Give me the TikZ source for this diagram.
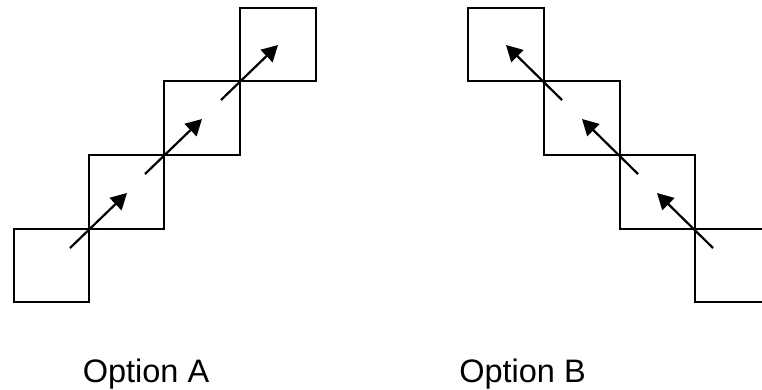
\documentclass[tikz,border=0pt]{standalone}
\usepackage{fontspec}
\setmainfont{Liberation Sans}
\usetikzlibrary{arrows.meta,calc}
\begin{document}
\begin{tikzpicture}[x=1pt,y=-1pt,
  cell/.style={draw=black,line width=2.2pt,line join=miter},
  move/.style={draw=black,line width=2.2pt,-{Triangle[length=16pt,width=17pt]}},
  caption/.style={anchor=base,inner sep=0pt,font=\fontsize{32.5}{39}\selectfont}]
\clip (0,0) rectangle (762,390);
% Option A
\draw[cell] (14,229) rectangle (89,302);
\draw[cell] (89,155) rectangle (164,229);
\draw[cell] (164,81) rectangle (240,155);
\draw[cell] (240,8) rectangle (316,81);
\coordinate (a1) at (89,229);
\coordinate (a2) at (164,155);
\coordinate (a3) at (240,81);
\foreach \c in {a1,a2,a3}{
  \draw[move] ($(\c)+(-19,19)$) -- ($(\c)+(38,-36)$);
}
% Option B
\draw[cell] (468,8) rectangle (544,81);
\draw[cell] (544,81) rectangle (620,155);
\draw[cell] (620,155) rectangle (695,229);
\draw[cell] (695,229) rectangle (771,302);
\coordinate (b1) at (544,81);
\coordinate (b2) at (620,155);
\coordinate (b3) at (695,229);
\foreach \c in {b1,b2,b3}{
  \draw[move] ($(\c)+(18,19)$) -- ($(\c)+(-38,-36)$);
}
\node[caption] (la) at (146,382) {Option A};
\node[caption] (lb) at (522.5,382) {Option B};
\end{tikzpicture}
\end{document}
